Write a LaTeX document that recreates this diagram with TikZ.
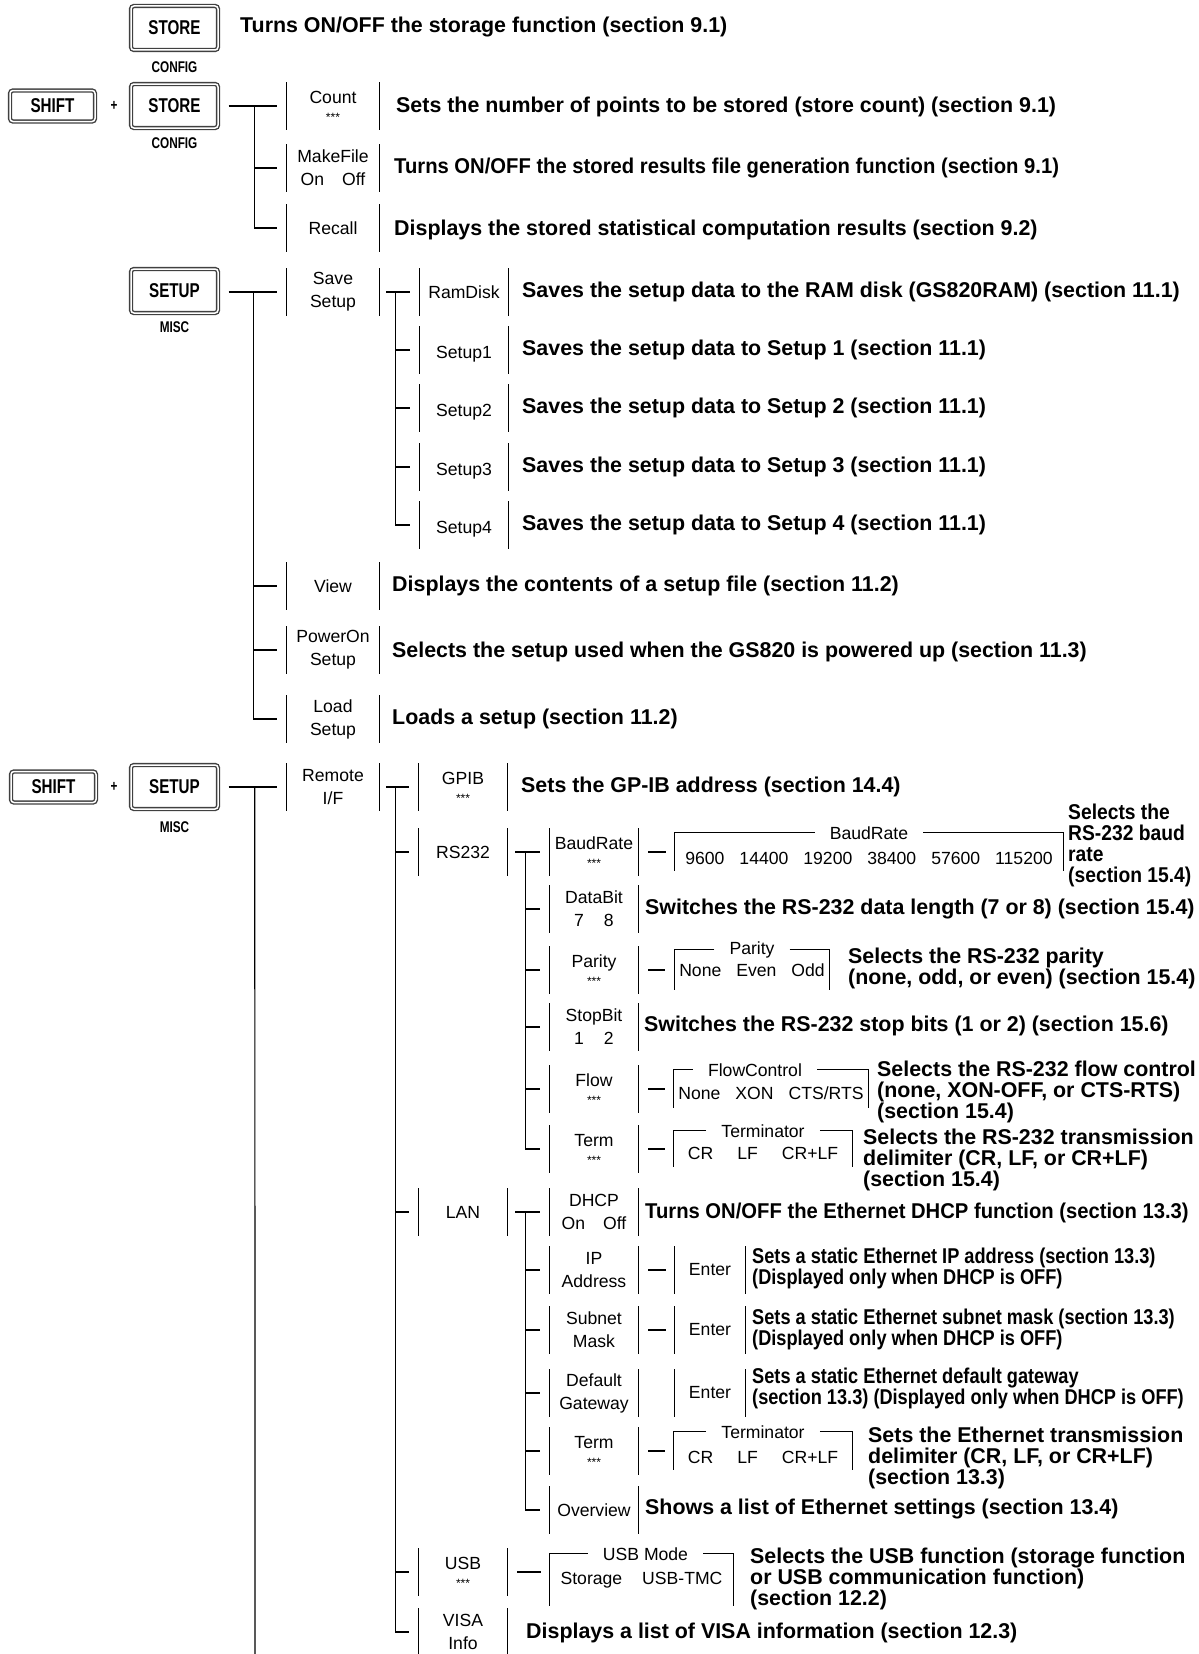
\documentclass[tikz,border=0pt]{standalone}
\usepackage{fontspec}
\setmainfont{Liberation Sans}
\newfontfamily\narrowfamily{Liberation Sans}[FakeStretch=0.85]
\newfontfamily\tightfamily{Liberation Sans}[FakeStretch=0.945]
\newfontfamily\baudfamily{Liberation Sans}[FakeStretch=0.9]
\newfontfamily\keyfamily{Liberation Sans}[FakeStretch=0.76]
\newcommand{\itemsize}{\fontsize{17.6}{23}\selectfont}
\newcommand{\descsize}{\fontsize{21.4}{21}\selectfont\bfseries}
\newcommand{\narrowsize}{\narrowfamily\fontsize{21.4}{21}\selectfont\bfseries}
\newcommand{\tightsize}{\tightfamily\fontsize{21.4}{21}\selectfont\bfseries}
\newcommand{\baudsize}{\baudfamily\fontsize{21.4}{21}\selectfont\bfseries}
\newcommand{\keysize}{\keyfamily\fontsize{20}{20}\selectfont\bfseries}
\newcommand{\notesize}{\keyfamily\fontsize{15.5}{16}\selectfont\bfseries}
\newcommand{\stars}{{\fontsize{12}{12}\selectfont ***}}
\newcommand{\gap}[1]{\hspace{#1pt}}
\newcommand{\sink}[2]{\raisebox{-#1pt}[\height][\depth]{#2}}
\tikzstyle{keycap} = [
    draw=black!75,
    double=white,
    double distance=1.5pt,
    line width=1.4pt,
    rounded corners=3pt,
    minimum width=87pt,
    minimum height=44pt,
    inner sep=0pt,
    font=\keysize
]
\tikzstyle{shiftcap} = [keycap, minimum width=85pt, minimum height=31pt]
\tikzstyle{capnote} = [inner sep=0pt, font=\notesize]
\tikzstyle{menuitem} = [
    minimum width=92pt,
    minimum height=47pt,
    inner sep=0pt,
    align=center,
    font=\itemsize
]
\tikzstyle{subitem} = [menuitem, minimum width=88pt]
\tikzstyle{enterbox} = [menuitem, minimum width=70pt]
\tikzstyle{choicebox} = [inner sep=0pt, font=\itemsize]
\tikzstyle{choicelabel} = [inner xsep=15pt, inner ysep=0pt, anchor=center, font=\itemsize]
\tikzstyle{desc} = [anchor=west, align=left, inner sep=0pt, font=\descsize]
\tikzstyle{narrowdesc} = [desc, font=\narrowsize]
\tikzstyle{tightdesc} = [desc, font=\tightsize]
\tikzstyle{wire} = [line width=1.2pt]

\begin{document}
\begin{tikzpicture}[x=1pt,y=-1pt]
\useasboundingbox (0,0) rectangle (1199,1654);

\node (store1) [keycap] at (174.5,28) {STORE};
\node (config1) [capnote] at (174.5,67) {CONFIG};
\node (storetxt) [desc] at (240,27) {Turns ON/OFF the storage function (section 9.1)};

\node (shift1) [shiftcap] at (52.5,106) {SHIFT};
\node (plus1) [capnote] at (114,106) {+};
\node (store2) [keycap] at (174.5,106) {STORE};
\node (config2) [capnote] at (174.5,143) {CONFIG};

\node (count) [menuitem] at (333,106) {Count\\[-5pt]\stars};
\node (makefile) [menuitem] at (333,168) {MakeFile\\On\gap{18}Off};
\node (recall) [menuitem] at (333,228) {Recall};

\node (counttxt) [desc] at (396,107) {Sets the number of points to be stored (store count) (section 9.1)};
\node (maketxt) [tightdesc] at (394,168) {Turns ON/OFF the stored results file generation function (section 9.1)};
\node (recalltxt) [desc] at (394,230) {Displays the stored statistical computation results (section 9.2)};

\node (setup1) [keycap] at (174.5,291) {SETUP};
\node (misc1) [capnote] at (174.5,327) {MISC};

\node (savesetup) [menuitem] at (333,292) {Save\\Setup};
\node (view) [menuitem] at (333,586) {View};
\node (poweron) [menuitem] at (333,650) {PowerOn\\Setup};
\node (loadsetup) [menuitem] at (333,719) {Load\\Setup};

\node (ramdisk) [subitem] at (464,292) {RamDisk};
\node (setupa) [subitem] at (464,350) {\sink{4}{Setup1}};
\node (setupb) [subitem] at (464,408) {\sink{4}{Setup2}};
\node (setupc) [subitem] at (464,467) {\sink{4}{Setup3}};
\node (setupd) [subitem] at (464,525) {\sink{4}{Setup4}};

\node (ramtxt) [desc] at (522,292) {Saves the setup data to the RAM disk (GS820RAM) (section 11.1)};
\node (setupatxt) [desc] at (522,350) {Saves the setup data to Setup 1 (section 11.1)};
\node (setupbtxt) [desc] at (522,408) {Saves the setup data to Setup 2 (section 11.1)};
\node (setupctxt) [desc] at (522,467) {Saves the setup data to Setup 3 (section 11.1)};
\node (setupdtxt) [desc] at (522,525) {Saves the setup data to Setup 4 (section 11.1)};
\node (viewtxt) [desc] at (392,586) {Displays the contents of a setup file (section 11.2)};
\node (powertxt) [desc] at (392,652) {Selects the setup used when the GS820 is powered up (section 11.3)};
\node (loadtxt) [desc] at (392,719) {Loads a setup (section 11.2)};

\node (shift2) [shiftcap] at (53.5,787) {SHIFT};
\node (plus2) [capnote] at (114,787) {+};
\node (setup2) [keycap] at (174.5,787) {SETUP};
\node (misc2) [capnote] at (174.5,827) {MISC};
\coordinate (tail) at (255,1654);

\node (remote) [menuitem] at (333,787) {Remote\\I/F};

\node (gpib) [subitem] at (463,787) {GPIB\\[-5pt]\stars};
\node (rs232) [subitem] at (463,852) {RS232};
\node (lan) [subitem] at (463,1212) {LAN};
\node (usb) [subitem] at (463,1572) {USB\\[-5pt]\stars};
\node (visa) [subitem] at (463,1632) {VISA\\Info};

\node (gpibtxt) [desc] at (521,787) {Sets the GP-IB address (section 14.4)};

\node (baudrate) [subitem] at (594,852) {BaudRate\\[-5pt]\stars};
\node (databit) [subitem] at (594,909) {DataBit\\7\gap{20}8};
\node (parity) [subitem] at (594,970) {Parity\\[-5pt]\stars};
\node (stopbit) [subitem] at (594,1027) {StopBit\\1\gap{20}2};
\node (flow) [subitem] at (594,1089) {Flow\\[-5pt]\stars};
\node (rsterm) [subitem] at (594,1149) {Term\\[-5pt]\stars};

\node (baudopt) [choicebox, minimum width=388pt, minimum height=38pt,
    label={[choicelabel, name=baudlbl]north:BaudRate}] at (869,852)
{\sink{6}{9600\gap{15}14400\gap{15}19200\gap{15}38400\gap{15}57600\gap{15}115200}};
\node (parityopt) [choicebox, minimum width=155pt, minimum height=40pt,
    label={[choicelabel, name=paritylbl]north:Parity}] at (752,970)
{None\gap{15}Even\gap{15}Odd};
\node (flowopt) [choicebox, minimum width=194pt, minimum height=38pt,
    label={[choicelabel, name=flowlbl, xshift=-16pt]north:FlowControl}] at (771,1089)
{\sink{4}{None\gap{15}XON\gap{15}CTS/RTS}};
\node (rstermopt) [choicebox, minimum width=178pt, minimum height=36pt,
    label={[choicelabel, name=rstermlbl]north:Terminator}] at (763,1149)
{\sink{4}{CR\gap{24}LF\gap{24}CR+LF}};

\node (baudtxt) [desc, font=\baudsize] at (1068,845) {Selects the\\RS-232 baud\\rate\\(section 15.4)};
\node (datatxt) [desc] at (645,909) {Switches the RS-232 data length (7 or 8) (section 15.4)};
\node (paritytxt) [desc] at (848,968) {Selects the RS-232 parity\\(none, odd, or even) (section 15.4)};
\node (stoptxt) [desc] at (644,1026) {Switches the RS-232 stop bits (1 or 2) (section 15.6)};
\node (flowtxt) [desc] at (877,1092) {Selects the RS-232 flow control\\(none, XON-OFF, or CTS-RTS)\\(section 15.4)};
\node (rstermtxt) [desc] at (863,1160) {Selects the RS-232 transmission\\delimiter (CR, LF, or CR+LF)\\(section 15.4)};

\node (dhcp) [subitem] at (594,1212) {DHCP\\On\gap{18}Off};
\node (ipaddr) [subitem] at (594,1270) {IP\\Address};
\node (subnet) [subitem] at (594,1330) {Subnet\\Mask};
\node (gateway) [subitem] at (594,1393) {Default\\Gateway};
\node (lanterm) [subitem] at (594,1451) {Term\\[-5pt]\stars};
\node (overview) [subitem] at (594,1510) {Overview};

\node (enterip) [enterbox] at (710,1270) {Enter};
\node (entersub) [enterbox] at (710,1330) {Enter};
\node (entergw) [enterbox] at (710,1393) {Enter};
\node (lantermopt) [choicebox, minimum width=178pt, minimum height=38pt,
    label={[choicelabel, name=lantermlbl]north:Terminator}] at (763,1451)
{\sink{6}{CR\gap{24}LF\gap{24}CR+LF}};

\node (dhcptxt) [tightdesc] at (645,1213) {Turns ON/OFF the Ethernet DHCP function (section 13.3)};
\node (iptxt) [narrowdesc] at (752,1268) {Sets a static Ethernet IP address (section 13.3)\\(Displayed only when DHCP is OFF)};
\node (subnettxt) [narrowdesc] at (752,1329) {Sets a static Ethernet subnet mask (section 13.3)\\(Displayed only when DHCP is OFF)};
\node (gatewaytxt) [narrowdesc] at (752,1388) {Sets a static Ethernet default gateway\\(section 13.3) (Displayed only when DHCP is OFF)};
\node (lantermtxt) [desc] at (868,1458) {Sets the Ethernet transmission\\delimiter (CR, LF, or CR+LF)\\(section 13.3)};
\node (overviewtxt) [desc] at (645,1509) {Shows a list of Ethernet settings (section 13.4)};

\node (usbopt) [choicebox, minimum width=183pt, minimum height=52pt,
    label={[choicelabel, name=usblbl, xshift=4pt]north:USB Mode}] at (641.5,1580)
{Storage\gap{20}USB-TMC};

\node (usbtxt) [desc] at (750,1579) {Selects the USB function (storage function\\or USB communication function)\\(section 12.2)};
\node (visatxt) [desc] at (526,1633) {Displays a list of VISA information (section 12.3)};

\foreach \n in {count,makefile,recall,savesetup,view,poweron,loadsetup,remote,
    ramdisk,setupa,setupb,setupc,setupd,gpib,rs232,lan,usb,visa,
    baudrate,databit,parity,stopbit,flow,rsterm,
    dhcp,ipaddr,subnet,gateway,lanterm,overview,enterip,entersub,entergw}
    \draw [wire] (\n.north west) -- (\n.south west) (\n.north east) -- (\n.south east);

\foreach \o in {baud,parity,flow,rsterm,lanterm,usb} {
    \draw [wire] (\o lbl.west) -| (\o opt.south west);
    \draw [wire] (\o lbl.east) -| (\o opt.south east);
}

\draw [wire] ([xshift=10pt]store2.east) -- ([xshift=-10pt]count.west);
\foreach \n in {makefile,recall}
    \draw [wire] ([xshift=-32pt]count.west) |- ([xshift=-10pt]\n.west);

\draw [wire] ([xshift=10pt]setup1.east |- savesetup.west) -- ([xshift=-10pt]savesetup.west);
\foreach \n in {view,poweron,loadsetup}
    \draw [wire] ([xshift=-33pt]savesetup.west) |- ([xshift=-10pt]\n.west);

\draw [wire] ([xshift=7pt]savesetup.east) -- ([xshift=-10pt]ramdisk.west);
\foreach \n in {setupa,setupb,setupc,setupd}
    \draw [wire] ([xshift=-24pt]ramdisk.west) |- ([xshift=-10pt]\n.west);

\draw [wire] ([xshift=10pt]setup2.east) -- ([xshift=-10pt]remote.west);
\draw [wire] ([xshift=-32pt]remote.west) -- (tail);

\draw [wire] ([xshift=7pt]remote.east) -- ([xshift=-10pt]gpib.west);
\foreach \n in {rs232,lan,usb,visa}
    \draw [wire] ([xshift=-23pt]gpib.west) |- ([xshift=-10pt]\n.west);

\draw [wire] ([xshift=8pt]rs232.east) -- ([xshift=-10pt]baudrate.west);
\foreach \n in {databit,parity,stopbit,flow,rsterm}
    \draw [wire] ([xshift=-24pt]baudrate.west) |- ([xshift=-10pt]\n.west);

\draw [wire] ([xshift=8pt]lan.east) -- ([xshift=-10pt]dhcp.west);
\foreach \n in {ipaddr,subnet,gateway,lanterm,overview}
    \draw [wire] ([xshift=-24pt]dhcp.west) |- ([xshift=-10pt]\n.west);

\foreach \a/\b in {baudrate/baudopt,parity/parityopt,flow/flowopt,rsterm/rstermopt,
    lanterm/lantermopt,ipaddr/enterip,subnet/entersub,usb/usbopt}
    \draw [wire] ([xshift=10pt]\a.east) -- ([xshift=-9pt]\b.west |- \a.east);

\end{tikzpicture}
\end{document}
